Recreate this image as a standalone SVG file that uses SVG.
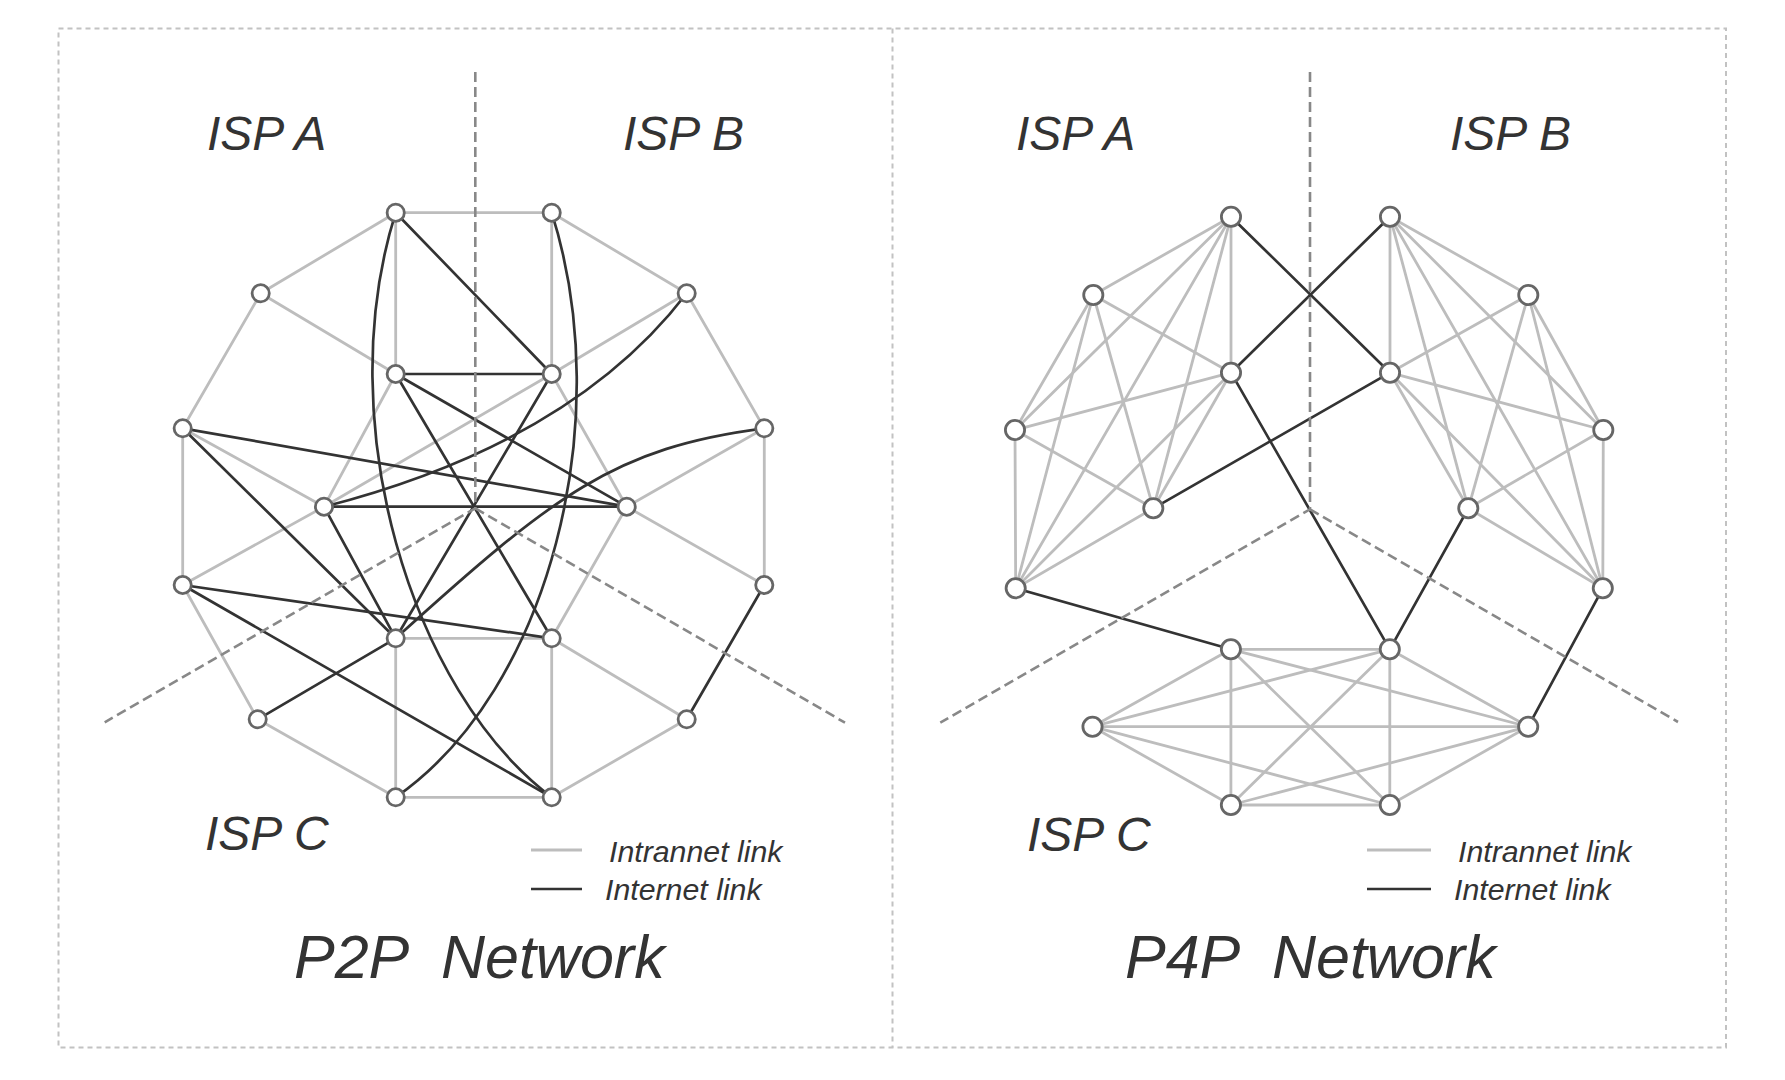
<svg xmlns="http://www.w3.org/2000/svg" width="1785" height="1080" viewBox="0 0 1785 1080">
<style>
.frame{fill:none;stroke:#c2c2c2;stroke-width:2;stroke-dasharray:5 4}
.div{fill:none;stroke:#888;stroke-width:2.6;stroke-dasharray:10 5}
.g{fill:none;stroke:#bdbdbd;stroke-width:2.8;stroke-linecap:round}
.d{fill:none;stroke:#333;stroke-width:2.7;stroke-linecap:round}
.node circle{fill:#fff;stroke:#666;stroke-width:2.8}
text{font-family:"Liberation Sans",Arial,sans-serif;font-style:italic;fill:#333}
.isp{font-size:48px}
.leg{font-size:30.3px}
.title{font-size:61px}
</style>
<rect class="frame" x="58.5" y="28.5" width="1667.5" height="1019"/>
<line class="frame" x1="892.5" y1="28.5" x2="892.5" y2="1047.5"/>

<g id="connectors">
<g id="p2p-intranet" class="g">
<line x1="395.7" y1="212.7" x2="551.7" y2="212.7"/>
<line x1="395.7" y1="212.7" x2="260.7" y2="293.3"/>
<line x1="260.7" y1="293.3" x2="182.7" y2="428.3"/>
<line x1="260.7" y1="293.3" x2="395.7" y2="374"/>
<line x1="395.7" y1="212.7" x2="395.7" y2="374"/>
<line x1="551.7" y1="212.7" x2="551.7" y2="374"/>
<line x1="551.7" y1="212.7" x2="686.7" y2="293.3"/>
<line x1="686.7" y1="293.3" x2="551.7" y2="374"/>
<line x1="686.7" y1="293.3" x2="764.3" y2="428.3"/>
<line x1="764.3" y1="428.3" x2="626.7" y2="506.7"/>
<line x1="764.3" y1="428.3" x2="764.3" y2="585"/>
<line x1="764.3" y1="585" x2="626.7" y2="506.7"/>
<line x1="551.7" y1="374" x2="626.7" y2="506.7"/>
<line x1="551.7" y1="374" x2="324" y2="506.7"/>
<line x1="395.7" y1="374" x2="324" y2="506.7"/>
<line x1="182.7" y1="428.3" x2="324" y2="506.7"/>
<line x1="182.7" y1="428.3" x2="182.7" y2="585"/>
<line x1="182.7" y1="585" x2="324" y2="506.7"/>
<line x1="626.7" y1="506.7" x2="551.7" y2="638.3"/>
<line x1="551.7" y1="638.3" x2="686.7" y2="719.3"/>
<line x1="686.7" y1="719.3" x2="551.7" y2="797.3"/>
<line x1="551.7" y1="638.3" x2="551.7" y2="797.3"/>
<line x1="395.7" y1="638.3" x2="551.7" y2="638.3"/>
<line x1="395.7" y1="638.3" x2="395.7" y2="797.3"/>
<line x1="395.7" y1="797.3" x2="551.7" y2="797.3"/>
<line x1="257.7" y1="719.3" x2="395.7" y2="797.3"/>
<line x1="182.7" y1="585" x2="257.7" y2="719.3"/>
</g>
<g id="p2p-internet" class="d">
<path d="M395.7,212.7 L551.7,374"/>
<path d="M395.7,212.7 C330,420 410,690 551.7,797.3"/>
<path d="M551.7,212.7 C617.4,420 550,690 395.7,797.3"/>
<path d="M395.7,374 L551.7,374"/>
<path d="M395.7,374 L626.7,506.7"/>
<path d="M395.7,374 L551.7,638.3"/>
<path d="M182.7,428.3 L626.7,506.7"/>
<path d="M182.7,428.3 L395.7,638.3"/>
<path d="M324,506.7 L626.7,506.7"/>
<path d="M324,506.7 Q572,443 686.7,293.3"/>
<path d="M324,506.7 L395.7,638.3"/>
<path d="M551.7,374 L395.7,638.3"/>
<path d="M764.3,428.3 C614.4,447.8 554.4,494.6 395.7,638.3"/>
<path d="M257.7,719.3 L395.7,638.3"/>
<path d="M182.7,585 L551.7,638.3"/>
<path d="M182.7,585 L551.7,797.3"/>
<path d="M764.3,585 L686.7,719.3"/>
</g>
<g id="p4p-intranet" class="g">
<line x1="1231" y1="216.7" x2="1093.3" y2="295"/>
<line x1="1231" y1="216.7" x2="1015" y2="430"/>
<line x1="1231" y1="216.7" x2="1015.7" y2="588.3"/>
<line x1="1231" y1="216.7" x2="1231" y2="372.7"/>
<line x1="1231" y1="216.7" x2="1153.3" y2="508.3"/>
<line x1="1093.3" y1="295" x2="1015" y2="430"/>
<line x1="1093.3" y1="295" x2="1015.7" y2="588.3"/>
<line x1="1093.3" y1="295" x2="1231" y2="372.7"/>
<line x1="1093.3" y1="295" x2="1153.3" y2="508.3"/>
<line x1="1015" y1="430" x2="1015.7" y2="588.3"/>
<line x1="1015" y1="430" x2="1231" y2="372.7"/>
<line x1="1015" y1="430" x2="1153.3" y2="508.3"/>
<line x1="1015.7" y1="588.3" x2="1231" y2="372.7"/>
<line x1="1015.7" y1="588.3" x2="1153.3" y2="508.3"/>
<line x1="1231" y1="372.7" x2="1153.3" y2="508.3"/>

<line x1="1390" y1="216.7" x2="1528.3" y2="295"/>
<line x1="1390" y1="216.7" x2="1603.3" y2="430"/>
<line x1="1390" y1="216.7" x2="1602.8" y2="588.3"/>
<line x1="1390" y1="216.7" x2="1390" y2="372.7"/>
<line x1="1390" y1="216.7" x2="1468.3" y2="508.3"/>
<line x1="1528.3" y1="295" x2="1603.3" y2="430"/>
<line x1="1528.3" y1="295" x2="1602.8" y2="588.3"/>
<line x1="1528.3" y1="295" x2="1390" y2="372.7"/>
<line x1="1528.3" y1="295" x2="1468.3" y2="508.3"/>
<line x1="1603.3" y1="430" x2="1602.8" y2="588.3"/>
<line x1="1603.3" y1="430" x2="1390" y2="372.7"/>
<line x1="1603.3" y1="430" x2="1468.3" y2="508.3"/>
<line x1="1602.8" y1="588.3" x2="1390" y2="372.7"/>
<line x1="1602.8" y1="588.3" x2="1468.3" y2="508.3"/>
<line x1="1390" y1="372.7" x2="1468.3" y2="508.3"/>

<line x1="1230.9" y1="649.3" x2="1389.8" y2="649.3"/>
<line x1="1230.9" y1="649.3" x2="1092.5" y2="726.7"/>
<line x1="1230.9" y1="649.3" x2="1528.2" y2="726.7"/>
<line x1="1230.9" y1="649.3" x2="1230.9" y2="805"/>
<line x1="1230.9" y1="649.3" x2="1389.8" y2="805"/>
<line x1="1389.8" y1="649.3" x2="1092.5" y2="726.7"/>
<line x1="1389.8" y1="649.3" x2="1528.2" y2="726.7"/>
<line x1="1389.8" y1="649.3" x2="1230.9" y2="805"/>
<line x1="1389.8" y1="649.3" x2="1389.8" y2="805"/>
<line x1="1092.5" y1="726.7" x2="1528.2" y2="726.7"/>
<line x1="1092.5" y1="726.7" x2="1230.9" y2="805"/>
<line x1="1092.5" y1="726.7" x2="1389.8" y2="805"/>
<line x1="1528.2" y1="726.7" x2="1230.9" y2="805"/>
<line x1="1528.2" y1="726.7" x2="1389.8" y2="805"/>
<line x1="1230.9" y1="805" x2="1389.8" y2="805"/>
</g>
<g id="p4p-internet" class="d">
<path d="M1231,216.7 L1390,372.7"/>
<path d="M1390,216.7 L1231,372.7"/>
<path d="M1153.3,508.3 L1390,372.7"/>
<path d="M1231,372.7 L1389.8,649.3"/>
<path d="M1015.7,588.3 L1230.9,649.3"/>
<path d="M1468.3,508.3 L1389.8,649.3"/>
<path d="M1602.8,588.3 L1528.2,726.7"/>
</g>
</g>

<g id="isp-boundaries" class="div">
<path d="M475.3,72 L475.3,508.3 L104.7,722.3 M475.3,508.3 L845,722.7"/>
<path d="M1310,72 L1310,509.3 L940.3,722.7 M1310,509.3 L1678,722"/>
</g>

<g class="p2p">
<g id="p2p-n1" class="node"><circle cx="395.7" cy="212.7" r="8.6"/></g>
<g id="p2p-n2" class="node"><circle cx="551.7" cy="212.7" r="8.6"/></g>
<g id="p2p-n3" class="node"><circle cx="686.7" cy="293.3" r="8.6"/></g>
<g id="p2p-n4" class="node"><circle cx="764.3" cy="428.3" r="8.6"/></g>
<g id="p2p-n5" class="node"><circle cx="764.3" cy="585" r="8.6"/></g>
<g id="p2p-n6" class="node"><circle cx="686.7" cy="719.3" r="8.6"/></g>
<g id="p2p-n7" class="node"><circle cx="551.7" cy="797.3" r="8.6"/></g>
<g id="p2p-n8" class="node"><circle cx="395.7" cy="797.3" r="8.6"/></g>
<g id="p2p-n9" class="node"><circle cx="257.7" cy="719.3" r="8.6"/></g>
<g id="p2p-n10" class="node"><circle cx="182.7" cy="585" r="8.6"/></g>
<g id="p2p-n11" class="node"><circle cx="182.7" cy="428.3" r="8.6"/></g>
<g id="p2p-n12" class="node"><circle cx="260.7" cy="293.3" r="8.6"/></g>
<g id="p2p-m1" class="node"><circle cx="395.7" cy="374" r="8.6"/></g>
<g id="p2p-m2" class="node"><circle cx="551.7" cy="374" r="8.6"/></g>
<g id="p2p-m3" class="node"><circle cx="626.7" cy="506.7" r="8.6"/></g>
<g id="p2p-m4" class="node"><circle cx="551.7" cy="638.3" r="8.6"/></g>
<g id="p2p-m5" class="node"><circle cx="395.7" cy="638.3" r="8.6"/></g>
<g id="p2p-m6" class="node"><circle cx="324" cy="506.7" r="8.6"/></g>
</g>
<g class="p4p">
<g id="p4p-a1" class="node"><circle cx="1231" cy="216.7" r="9.6"/></g>
<g id="p4p-a2" class="node"><circle cx="1093.3" cy="295" r="9.6"/></g>
<g id="p4p-a3" class="node"><circle cx="1015" cy="430" r="9.6"/></g>
<g id="p4p-a4" class="node"><circle cx="1015.7" cy="588.3" r="9.6"/></g>
<g id="p4p-a5" class="node"><circle cx="1231" cy="372.7" r="9.6"/></g>
<g id="p4p-a6" class="node"><circle cx="1153.3" cy="508.3" r="9.6"/></g>
<g id="p4p-b1" class="node"><circle cx="1390" cy="216.7" r="9.6"/></g>
<g id="p4p-b2" class="node"><circle cx="1528.3" cy="295" r="9.6"/></g>
<g id="p4p-b3" class="node"><circle cx="1603.3" cy="430" r="9.6"/></g>
<g id="p4p-b4" class="node"><circle cx="1602.8" cy="588.3" r="9.6"/></g>
<g id="p4p-b5" class="node"><circle cx="1390" cy="372.7" r="9.6"/></g>
<g id="p4p-b6" class="node"><circle cx="1468.3" cy="508.3" r="9.6"/></g>
<g id="p4p-c1" class="node"><circle cx="1230.9" cy="649.3" r="9.6"/></g>
<g id="p4p-c2" class="node"><circle cx="1389.8" cy="649.3" r="9.6"/></g>
<g id="p4p-c3" class="node"><circle cx="1092.5" cy="726.7" r="9.6"/></g>
<g id="p4p-c4" class="node"><circle cx="1528.2" cy="726.7" r="9.6"/></g>
<g id="p4p-c5" class="node"><circle cx="1230.9" cy="805" r="9.6"/></g>
<g id="p4p-c6" class="node"><circle cx="1389.8" cy="805" r="9.6"/></g>
</g>

<g id="labels">
<text class="isp" x="207" y="150">ISP A</text>
<text class="isp" x="623" y="150">ISP B</text>
<text class="isp" x="205" y="850">ISP C</text>
<text class="isp" x="1016" y="150">ISP A</text>
<text class="isp" x="1450" y="150">ISP B</text>
<text class="isp" x="1027" y="851">ISP C</text>
<text class="title" x="294" y="978" xml:space="preserve">P2P  Network</text>
<text class="title" x="1125" y="978" xml:space="preserve">P4P  Network</text>
</g>

<g id="legend-p2p">
<line class="g" x1="531" y1="850" x2="582" y2="850" style="stroke-linecap:butt"/>
<line class="d" x1="531" y1="889" x2="582" y2="889" style="stroke-linecap:butt"/>
<text class="leg" x="609" y="862">Intrannet link</text>
<text class="leg" x="605" y="900">Internet link</text>
</g>
<g id="legend-p4p">
<line class="g" x1="1367" y1="850" x2="1431" y2="850" style="stroke-linecap:butt"/>
<line class="d" x1="1367" y1="889" x2="1431" y2="889" style="stroke-linecap:butt"/>
<text class="leg" x="1458" y="862">Intrannet link</text>
<text class="leg" x="1454" y="900">Internet link</text>
</g>
</svg>
